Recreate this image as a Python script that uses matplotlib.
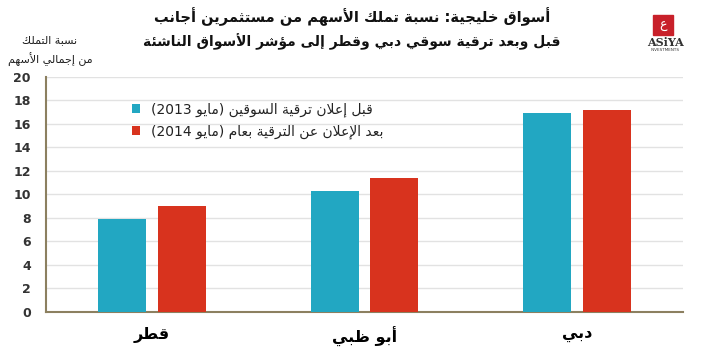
import re
import numpy as np
import matplotlib
matplotlib.use('Agg')
import matplotlib.pyplot as plt
from matplotlib.patches import Rectangle

# data
categories = ['قطر', 'أبو ظبي', 'دبي']
before_2013 = [7.9, 10.3, 16.9]
after_2014 = [9.0, 11.4, 17.2]
series_labels = ['قبل إعلان ترقية السوقين (مايو 2013)',
                 'بعد الإعلان عن الترقية بعام (مايو 2014)']
title_lines = ['أسواق خليجية: نسبة تملك الأسهم من مستثمرين أجانب',
               'قبل وبعد ترقية سوقي دبي وقطر إلى مؤشر الأسواق الناشئة']
ylabel_lines = ['نسبة التملك', 'من إجمالي الأسهم']
yticks = [0, 2, 4, 6, 8, 10, 12, 14, 16, 18, 20]

# --- minimal arabic shaping (matplotlib draws text left to right, unjoined)
FOUR = {'ئ': 0xFE89, 'ب': 0xFE8F, 'ت': 0xFE95, 'ث': 0xFE99, 'ج': 0xFE9D,
        'ح': 0xFEA1, 'خ': 0xFEA5, 'س': 0xFEB1, 'ش': 0xFEB5, 'ص': 0xFEB9,
        'ض': 0xFEBD, 'ط': 0xFEC1, 'ظ': 0xFEC5, 'ع': 0xFEC9, 'غ': 0xFECD,
        'ف': 0xFED1, 'ق': 0xFED5, 'ك': 0xFED9, 'ل': 0xFEDD, 'م': 0xFEE1,
        'ن': 0xFEE5, 'ه': 0xFEE9, 'ي': 0xFEF1}
TWO = {'آ': 0xFE81, 'أ': 0xFE83, 'ؤ': 0xFE85, 'إ': 0xFE87, 'ا': 0xFE8D,
       'ة': 0xFE93, 'د': 0xFEA9, 'ذ': 0xFEAB, 'ر': 0xFEAD, 'ز': 0xFEAF,
       'و': 0xFEED, 'ى': 0xFEEF}
LAMALEF = {'آ': 0xFEF5, 'أ': 0xFEF7, 'إ': 0xFEF9, 'ا': 0xFEFB}
MIRROR = {'(': ')', ')': '('}


def _jtype(t):
    if isinstance(t, tuple):
        return 'R'
    if t in FOUR:
        return 'D'
    if t in TWO:
        return 'R'
    return 'U'


def _shape(run):
    tokens = []
    i = 0
    while i < len(run):
        c = run[i]
        if c == 'ل' and i + 1 < len(run) and run[i + 1] in LAMALEF:
            tokens.append(('LA', run[i + 1]))
            i += 2
        else:
            tokens.append(c)
            i += 1
    out = []
    for k, t in enumerate(tokens):
        prev = tokens[k - 1] if k > 0 else None
        nxt = tokens[k + 1] if k + 1 < len(tokens) else None
        jt = _jtype(t)
        jp = prev is not None and _jtype(prev) == 'D' and jt in 'DR'
        jn = nxt is not None and jt == 'D' and _jtype(nxt) in 'DR'
        if isinstance(t, tuple):
            out.append(chr(LAMALEF[t[1]] + (1 if jp else 0)))
        elif jt == 'D':
            off = 3 if (jp and jn) else 1 if jp else 2 if jn else 0
            out.append(chr(FOUR[t] + off))
        elif jt == 'R':
            out.append(chr(TWO[t] + (1 if jp else 0)))
        else:
            out.append(MIRROR.get(t, t))
    return ''.join(out)


def ar(text):
    runs = re.findall(r'[0-9A-Za-z.]+|[^0-9A-Za-z.]+', text)
    out = []
    for r in runs:
        if r[0].isascii() and r[0].isalnum():
            out.append(r)
        else:
            out.append(_shape(r)[::-1])
    return ''.join(reversed(out))


plt.rcParams['font.family'] = ['DejaVu Sans']

c_before = '#22A7C2'
c_after = '#D8331E'
axis_col = '#8C8060'

fig = plt.figure(figsize=(7.02, 3.51), dpi=100)
ax = fig.add_axes([46 / 702, 1 - 311.7 / 351, 637 / 702, 235 / 351])

x = np.arange(len(categories))
w = 0.226
off = 0.141
b1 = ax.bar(x - off, before_2013, w, color=c_before, zorder=3)
b2 = ax.bar(x + off, after_2014, w, color=c_after, zorder=3)

ax.set_xlim(-0.5, 2.5)
ax.set_ylim(0, 20)
ax.set_yticks(yticks)
ax.set_yticklabels([str(v) for v in yticks], fontsize=9, fontweight='bold',
                   color='#333333')
ax.set_xticks(x)
ax.set_xticklabels([ar(c) for c in categories], fontsize=11.5, fontweight='bold')
ax.tick_params(axis='y', length=0, pad=11)
ax.tick_params(axis='x', length=0, pad=11)
ax.grid(axis='y', color='#E2E2E2', linewidth=1, zorder=0)
for s in ['top', 'right']:
    ax.spines[s].set_visible(False)
for s in ['left', 'bottom']:
    ax.spines[s].set_color(axis_col)
    ax.spines[s].set_linewidth(1.5)

leg = ax.legend([b1, b2], [ar(s) for s in series_labels],
                loc='upper left', bbox_to_anchor=(0.135, 0.89),
                frameon=False, fontsize=10, handlelength=0.6,
                handleheight=0.6, handletextpad=0.8, labelspacing=0.55,
                borderpad=0, borderaxespad=0)
for t in leg.get_texts():
    t.set_color('#222222')

# titles
fig.text(352 / 702, 1 - 17 / 351, ar(title_lines[0]), ha='center',
         va='center', fontsize=10.5, fontweight='bold', color='#111111')
fig.text(352 / 702, 1 - 42 / 351, ar(title_lines[1]), ha='center',
         va='center', fontsize=10, fontweight='bold', color='#111111')

# y axis caption
fig.text(50 / 702, 1 - 40 / 351, ar(ylabel_lines[0]), ha='center',
         va='center', fontsize=8, color='#222222')
fig.text(50 / 702, 1 - 60 / 351, ar(ylabel_lines[1]), ha='center',
         va='center', fontsize=8, color='#222222')

# logo
fig.patches.append(Rectangle((653 / 702, 1 - 35 / 351), 20 / 702, 20 / 351,
                             transform=fig.transFigure, color='#C8202A'))
fig.text(663 / 702, 1 - 25 / 351, ar('ع'), ha='center', va='center',
         fontsize=9, color='white')
fig.text(665 / 702, 1 - 43 / 351, 'ASiYA', ha='center', va='center',
         fontsize=8, fontweight='bold', family='DejaVu Serif', color='#333333')
fig.text(665 / 702, 1 - 50 / 351, 'INVESTMENTS', ha='center', va='center',
         fontsize=3, color='#333333')

fig.savefig('out.png', dpi=100)
